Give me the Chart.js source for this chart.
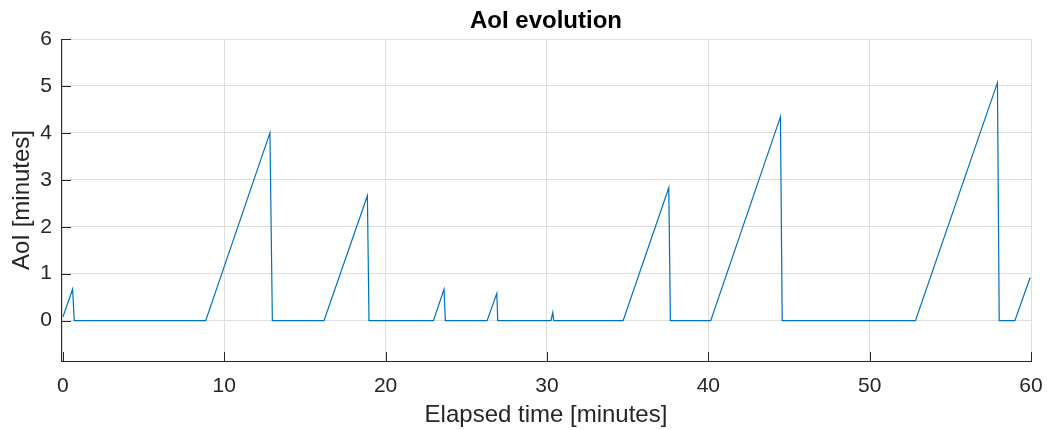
<!DOCTYPE html>
<html>
<head>
<meta charset="utf-8">
<script src="https://cdn.jsdelivr.net/npm/chart.js@4/dist/chart.umd.min.js"></script>
<style>
  html, body { margin: 0; padding: 0; background: #fff; }
  #wrap { width: 1047px; height: 430px; }
</style>
</head>
<body>
<div id="wrap"><canvas id="aoiChart" width="1047" height="430"></canvas></div>
<script>
// sawtooth AoI trace: time (min) and age (min) at each corner of the curve
const elapsedMin = [0, 0.6, 0.7, 8.85, 12.83, 12.98, 16.18, 18.87, 18.97, 22.96, 23.62, 23.7,
                    26.29, 26.89, 26.95, 30.25, 30.36, 30.42, 34.72, 37.55, 37.65, 40.15,
                    44.47, 44.58, 52.84, 57.92, 58.03, 59.0, 59.95];
const aoiMin     = [0.08, 0.67, 0, 0, 4.0, 0, 0, 2.66, 0, 0, 0.67, 0,
                    0, 0.58, 0, 0, 0.17, 0, 0, 2.83, 0, 0,
                    4.34, 0, 0, 5.07, 0, 0, 0.92];

const xTicks = [0, 10, 20, 30, 40, 50, 60];
const yTicks = [0, 1, 2, 3, 4, 5, 6];

const axisCol = '#262626';
const gridCol = '#dfdfdf';
const fontFam = '"Liberation Sans", Arial, Helvetica, sans-serif';

// matlab-style tick marks pointing into the plot
const inwardTicks = {
  id: 'inwardTicks',
  afterDraw(chart) {
    const { ctx, chartArea, scales } = chart;
    ctx.save();
    ctx.strokeStyle = axisCol;
    ctx.lineWidth = 1;
    ctx.beginPath();
    xTicks.forEach(v => {
      const px = Math.round(scales.x.getPixelForValue(v)) + 0.5;
      ctx.moveTo(px, chartArea.bottom);
      ctx.lineTo(px, chartArea.bottom - 9);
    });
    yTicks.forEach(v => {
      const py = Math.round(scales.y.getPixelForValue(v)) + 0.5;
      ctx.moveTo(chartArea.left, py);
      ctx.lineTo(chartArea.left + 10, py);
    });
    ctx.stroke();
    ctx.restore();
  }
};

const points = elapsedMin.map((t, i) => ({ x: t, y: aoiMin[i] }));

new Chart(document.getElementById('aoiChart'), {
  type: 'scatter',
  data: {
    datasets: [{
      data: points,
      showLine: true,
      borderColor: '#0072BD',
      borderWidth: 1.2,
      pointRadius: 0,
      tension: 0,
      fill: false
    }]
  },
  options: {
    responsive: false,
    animation: false,
    layout: { padding: { left: 0, right: 16, top: 0, bottom: 0 } },
    plugins: {
      legend: { display: false },
      tooltip: { enabled: false },
      title: {
        display: true,
        text: 'AoI evolution',
        fullSize: false,
        color: '#000',
        font: { family: fontFam, size: 24, weight: 'bold', lineHeight: 1.0 },
        padding: { top: 9, bottom: 6 }
      }
    },
    scales: {
      x: {
        type: 'linear',
        min: -0.12,
        max: 60,
        afterFit: s => { s.height = 69; s.paddingLeft = 0; s.paddingRight = 0; },
        afterBuildTicks: s => { s.ticks = xTicks.map(v => ({ value: v })); },
        ticks: {
          color: axisCol,
          font: { family: fontFam, size: 21 },
          padding: 13,
          maxRotation: 0
        },
        grid: { color: gridCol, lineWidth: 1, drawTicks: false },
        border: { display: true, color: axisCol, width: 1 },
        title: {
          display: true,
          text: 'Elapsed time [minutes]',
          color: axisCol,
          font: { family: fontFam, size: 24 },
          padding: { top: 0, bottom: 0 }
        }
      },
      y: {
        min: -0.86,
        max: 6,
        afterFit: s => { s.width = 61; },
        afterBuildTicks: s => { s.ticks = yTicks.map(v => ({ value: v })); },
        ticks: {
          color: axisCol,
          font: { family: fontFam, size: 21 },
          padding: 9
        },
        grid: { color: gridCol, lineWidth: 1, drawTicks: false },
        border: { display: true, color: axisCol, width: 1 },
        title: {
          display: true,
          text: 'AoI [minutes]',
          color: axisCol,
          font: { family: fontFam, size: 24 },
          padding: { top: 8, bottom: 0 }
        }
      }
    }
  },
  plugins: [inwardTicks]
});
</script>
</body>
</html>
